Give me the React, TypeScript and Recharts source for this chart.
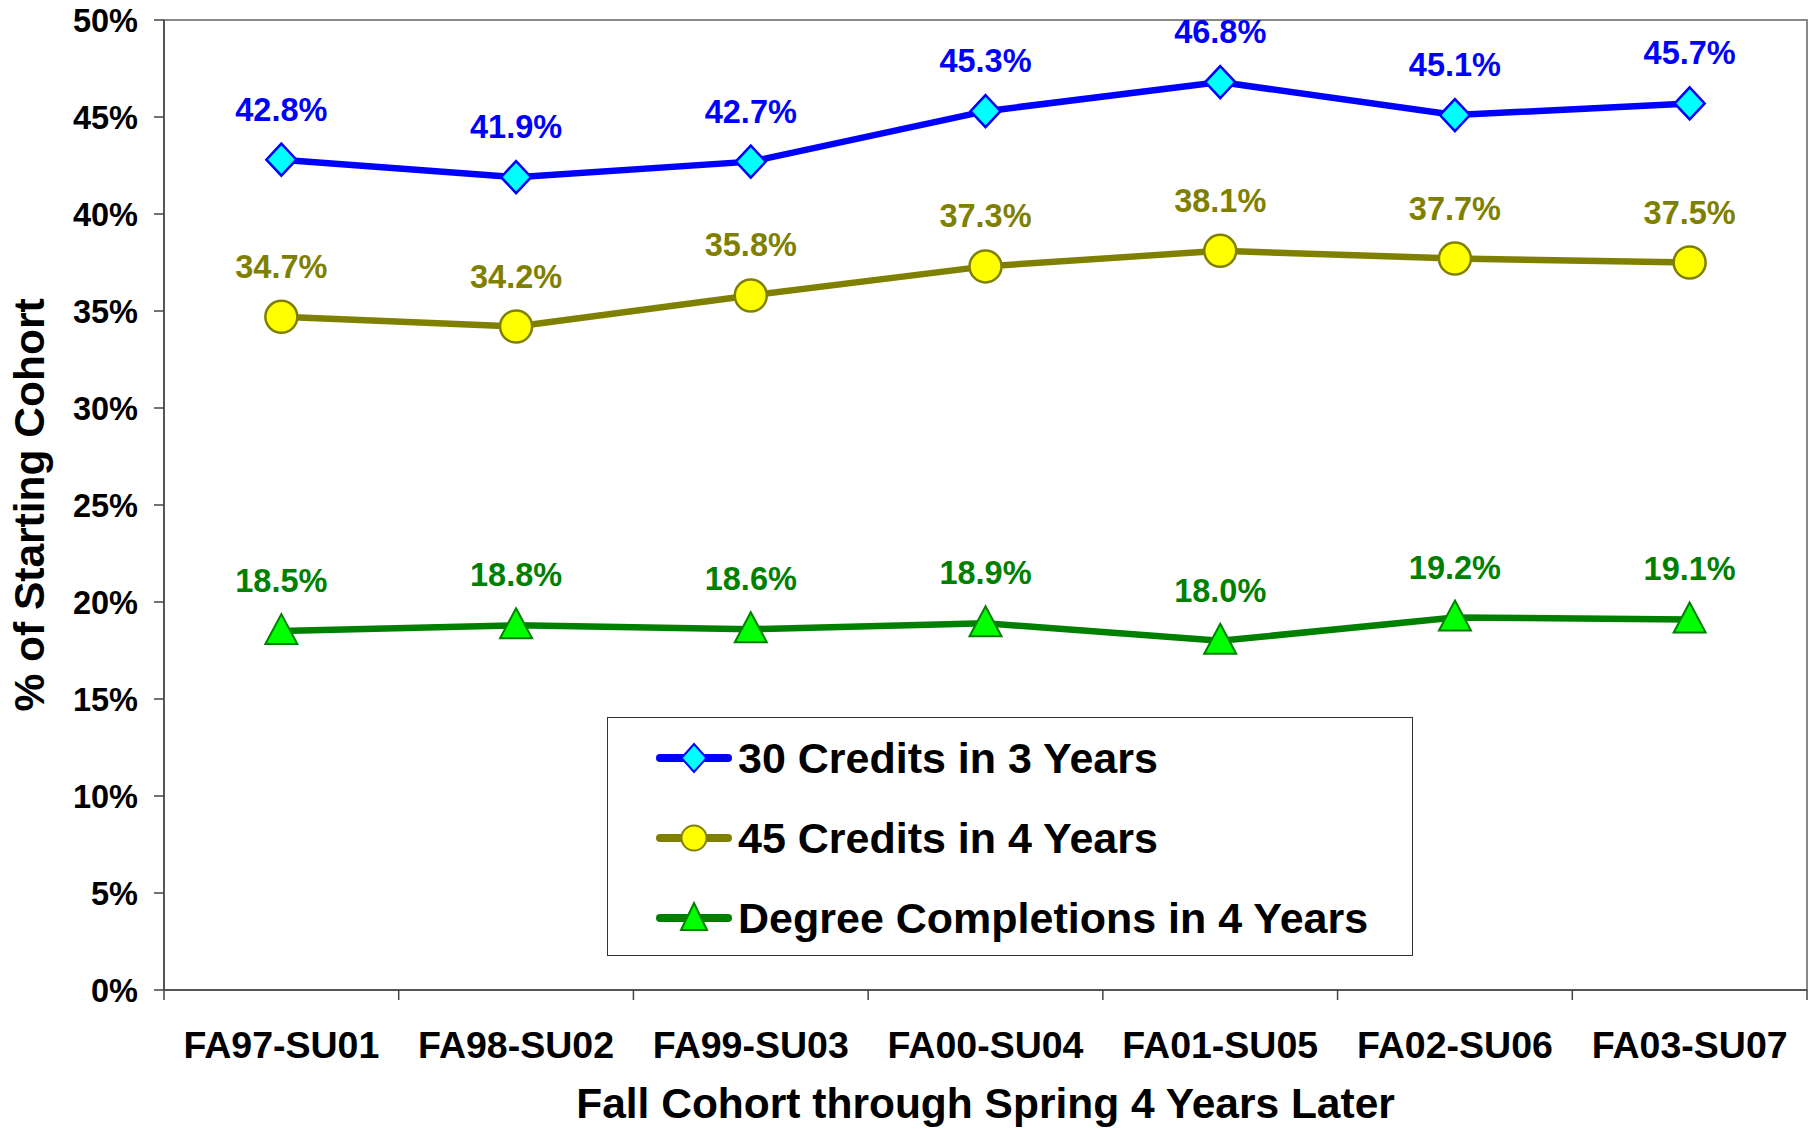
import React from 'react';
import { LineChart, Line, XAxis, YAxis, LabelList, Legend, ReferenceArea, Label } from 'recharts';

const categories = ['FA97-SU01', 'FA98-SU02', 'FA99-SU03', 'FA00-SU04', 'FA01-SU05', 'FA02-SU06', 'FA03-SU07'];
const credits30In3 = [42.8, 41.9, 42.7, 45.3, 46.8, 45.1, 45.7];
const credits45In4 = [34.7, 34.2, 35.8, 37.3, 38.1, 37.7, 37.5];
const degreesIn4 = [18.5, 18.8, 18.6, 18.9, 18.0, 19.2, 19.1];
const yTicks = [0, 5, 10, 15, 20, 25, 30, 35, 40, 45, 50];
const seriesNames = ['30 Credits in 3 Years', '45 Credits in 4 Years', 'Degree Completions in 4 Years'];
const xTitle = 'Fall Cohort through Spring 4 Years Later';
const yTitle = '% of Starting Cohort';

const data = categories.map((c, i) => ({ cat: c, slot: i, s30: credits30In3[i], s45: credits45In4[i], deg: degreesIn4[i] }));
const boundaryTicks = categories.map((_, i) => i).concat(categories.length);

const FONT = '"Liberation Sans", Arial, Helvetica, sans-serif';
const BLUE = '#0000FF';
const CYAN = '#00FFFF';
const OLIVE = '#808000';
const YELLOW = '#FFFF00';
const GREEN = '#008000';
const LIME = '#00FF00';
const AXIS = '#444444';

const fmt = (v: any) => `${Number(v).toFixed(1)}%`;

const diamondPath = (cx: number, cy: number, hw: number, hh: number) =>
  `M${cx},${cy - hh}L${cx + hw},${cy}L${cx},${cy + hh}L${cx - hw},${cy}Z`;
const trianglePath = (cx: number, cy: number, hw: number, up: number, down: number) =>
  `M${cx},${cy - up}L${cx + hw},${cy + down}L${cx - hw},${cy + down}Z`;

const DiamondDot = (p: any) => {
  const { cx, cy, index } = p;
  if (cx == null || cy == null) return <g key={`dd-${index}`} />;
  return <path key={`dd-${index}`} d={diamondPath(cx, cy, 15, 16)} fill={CYAN} stroke={BLUE} strokeWidth={2.5} />;
};
const CircleDot = (p: any) => {
  const { cx, cy, index } = p;
  if (cx == null || cy == null) return <g key={`cd-${index}`} />;
  return <circle key={`cd-${index}`} cx={cx} cy={cy} r={16} fill={YELLOW} stroke={OLIVE} strokeWidth={2.5} />;
};
const TriangleDot = (p: any) => {
  const { cx, cy, index } = p;
  if (cx == null || cy == null) return <g key={`td-${index}`} />;
  return <path key={`td-${index}`} d={trianglePath(cx, cy, 16, 17, 13)} fill={LIME} stroke={GREEN} strokeWidth={2} />;
};

const EmptyTick = () => <g />;

const legendItems = [
  { name: seriesNames[0], color: BLUE, kind: 'diamond' },
  { name: seriesNames[1], color: OLIVE, kind: 'circle' },
  { name: seriesNames[2], color: GREEN, kind: 'triangle' },
];

const LegendIcon = ({ kind, color }: { kind: string; color: string }) => (
  <svg width={76} height={40} style={{ display: 'block', flex: 'none' }}>
    <line x1={4} y1={20} x2={72} y2={20} stroke={color} strokeWidth={8} strokeLinecap="round" />
    {kind === 'diamond' && <path d={diamondPath(38, 20, 12.5, 14)} fill={CYAN} stroke={BLUE} strokeWidth={2} />}
    {kind === 'circle' && <circle cx={38} cy={20} r={12.5} fill={YELLOW} stroke={OLIVE} strokeWidth={2} />}
    {kind === 'triangle' && <path d={trianglePath(38, 20, 13, 15, 12)} fill={LIME} stroke={GREEN} strokeWidth={2} />}
  </svg>
);

const renderLegend = () => (
  <div
    style={{
      width: '100%',
      height: '100%',
      boxSizing: 'border-box',
      border: '1.5px solid #333',
      background: '#fff',
      fontFamily: FONT,
    }}
  >
    {legendItems.map((it) => (
      <div key={it.name} style={{ height: 80, display: 'flex', alignItems: 'center', paddingLeft: 48 }}>
        <LegendIcon kind={it.kind} color={it.color} />
        <span style={{ marginLeft: 6, fontSize: 43, fontWeight: 'bold', color: '#000', whiteSpace: 'nowrap', lineHeight: 1 }}>
          {it.name}
        </span>
      </div>
    ))}
  </div>
);

const YTitle = (props: any) => {
  const vb = props.viewBox || { x: 0, y: 20, width: 164, height: 970 };
  const x = vb.x + 44;
  const y = vb.y + vb.height / 2;
  return (
    <text
      x={x}
      y={y}
      transform={`rotate(-90, ${x}, ${y})`}
      textAnchor="middle"
      fontFamily={FONT}
      fontWeight="bold"
      fontSize={42.5}
      fill="#000"
    >
      {yTitle}
    </text>
  );
};

export default function App() {
  return (
    <div style={{ position: 'absolute', left: 0, top: 0, width: 1811, height: 1129, background: '#fff' }}>
      <LineChart width={1811} height={1129} data={data} margin={{ top: 20, right: 4, bottom: 0, left: 0 }}>
        <ReferenceArea
          xAxisId={0}
          yAxisId={0}
          x1={0}
          x2={categories.length}
          y1={0}
          y2={50}
          fill="none"
          stroke="#888888"
          strokeWidth={2}
          ifOverflow="visible"
        />
        <XAxis
          xAxisId={0}
          dataKey="slot"
          type="number"
          domain={[0, categories.length]}
          ticks={boundaryTicks}
          interval={0}
          allowDataOverflow
          mirror
          tick={EmptyTick}
          tickSize={-10}
          height={1}
          axisLine={{ stroke: AXIS, strokeWidth: 1.5 }}
          tickLine={{ stroke: AXIS, strokeWidth: 1.5 }}
        />
        <XAxis
          xAxisId="cat"
          dataKey="cat"
          type="category"
          scale="band"
          height={139}
          interval={0}
          axisLine={false}
          tickLine={false}
          tickSize={0}
          tickMargin={41}
          tick={{ fill: '#000', fontSize: 37.5, fontWeight: 'bold', fontFamily: FONT }}
        >
          <Label
            value={xTitle}
            position="insideBottom"
            offset={11}
            fill="#000"
            fontSize={42.5}
            fontWeight="bold"
            fontFamily={FONT}
          />
        </XAxis>
        <YAxis
          yAxisId={0}
          type="number"
          domain={[0, 50]}
          ticks={yTicks}
          interval={0}
          width={164}
          tickSize={10}
          tickMargin={16}
          tickFormatter={(v: any) => `${v}%`}
          tick={{ fill: '#000', fontSize: 32.5, fontWeight: 'bold', fontFamily: FONT }}
          axisLine={{ stroke: AXIS, strokeWidth: 1.5 }}
          tickLine={{ stroke: AXIS, strokeWidth: 1.5 }}
        >
          <Label content={YTitle} />
        </YAxis>
        <Legend
          layout="vertical"
          align="center"
          verticalAlign="middle"
          content={renderLegend}
          wrapperStyle={{ left: 607, top: 717, width: 806, height: 239 }}
        />
        <Line
          xAxisId="cat"
          yAxisId={0}
          dataKey="s30"
          name={seriesNames[0]}
          stroke={BLUE}
          strokeWidth={6.5}
          dot={DiamondDot}
          activeDot={false}
          isAnimationActive={false}
        >
          <LabelList dataKey="s30" position="top" offset={39} fill={BLUE} fontSize={32.5} fontWeight="bold" fontFamily={FONT} formatter={fmt} />
        </Line>
        <Line
          xAxisId="cat"
          yAxisId={0}
          dataKey="s45"
          name={seriesNames[1]}
          stroke={OLIVE}
          strokeWidth={6.5}
          dot={CircleDot}
          activeDot={false}
          isAnimationActive={false}
        >
          <LabelList dataKey="s45" position="top" offset={39} fill={OLIVE} fontSize={32.5} fontWeight="bold" fontFamily={FONT} formatter={fmt} />
        </Line>
        <Line
          xAxisId="cat"
          yAxisId={0}
          dataKey="deg"
          name={seriesNames[2]}
          stroke={GREEN}
          strokeWidth={6.5}
          dot={TriangleDot}
          activeDot={false}
          isAnimationActive={false}
        >
          <LabelList dataKey="deg" position="top" offset={39} fill={GREEN} fontSize={32.5} fontWeight="bold" fontFamily={FONT} formatter={fmt} />
        </Line>
      </LineChart>
    </div>
  );
}
